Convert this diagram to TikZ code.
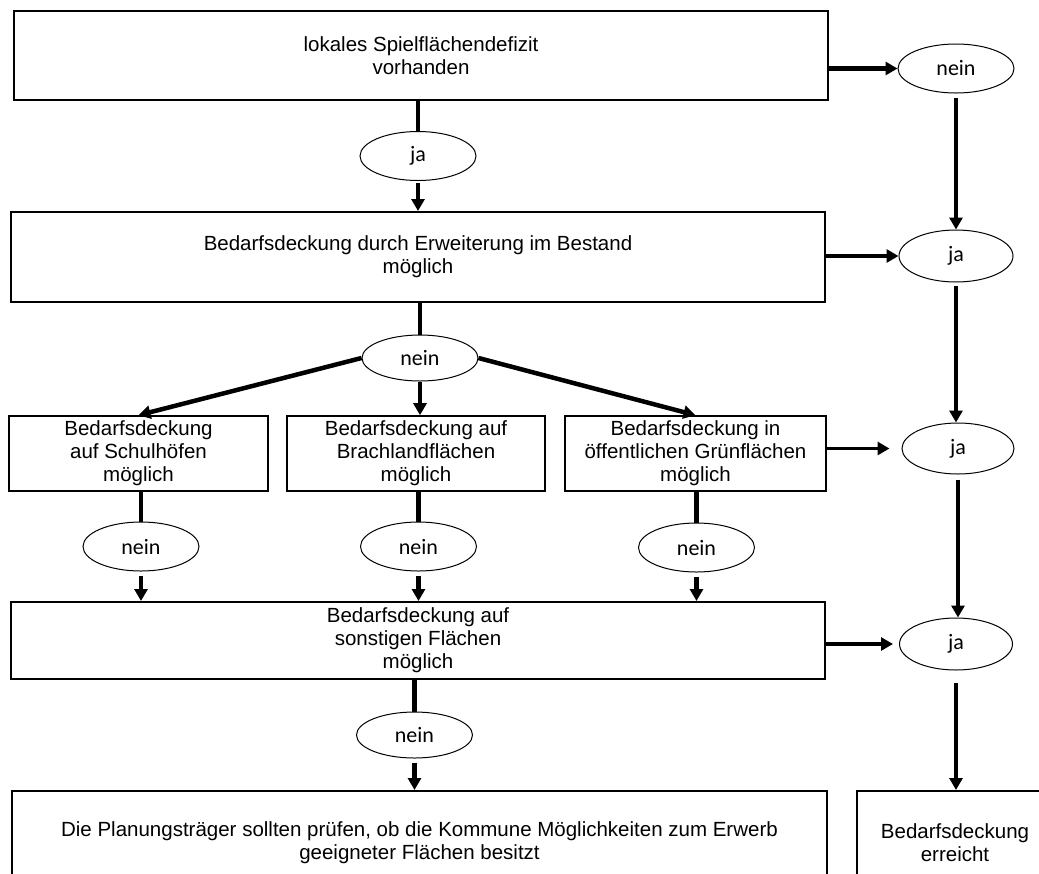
\documentclass[tikz,border=0pt]{standalone}
\usepackage{fontspec}
\setmainfont{Liberation Sans}
\newfontfamily\ansfont{Carlito}
\usetikzlibrary{shapes,arrows.meta,positioning}

\begin{document}
\begin{tikzpicture}[x=1pt, y=-1pt, every node/.style={font=\fontsize{20.5}{23}\selectfont}]
    \tikzstyle{box} = [rectangle, draw=black, line width=2pt, align=center, inner sep=0pt]
    \tikzstyle{answer} = [ellipse, draw=black, line width=1pt, minimum width=116pt,
        minimum height=49pt, inner sep=0pt, font=\ansfont\fontsize{22}{24}\selectfont]
    \tikzstyle{arr} = [-{Triangle[length=12pt,width=13pt]}, line width=4.5pt]
    \tikzstyle{link} = [line width=4.5pt]
    \useasboundingbox (0,0) rectangle (1039,873);
    \clip (0,0) rectangle (1039,873);

    % main column
    \node (deficit) [box, minimum width=814pt, minimum height=89pt] at (421,55.5)
        {lokales Spielflächendefizit\\ vorhanden};
    \node (jaA) [answer] at (418,156) {ja};
    \node (extend) [box, minimum width=814pt, minimum height=90pt] at (418,257)
        {Bedarfsdeckung durch Erweiterung im Bestand\\ möglich};
    \node (neinA) [answer, minimum height=46pt] at (420,358) {nein};
    \node (school) [box, line width=1.6pt, minimum width=259pt, minimum height=75pt] at (138.5,453.5)
        {Bedarfsdeckung\\ auf Schulhöfen\\ möglich};
    \node (waste) [box, line width=1.6pt, minimum width=258pt, minimum height=75pt] at (416,453.5)
        {Bedarfsdeckung auf\\ Brachlandflächen\\ möglich};
    \node (green) [box, line width=1.6pt, minimum width=261pt, minimum height=75pt] at (695.5,453.5)
        {Bedarfsdeckung in\\ öffentlichen Grünflächen\\ möglich};
    \node (neinS) [answer] at (141,546.5) {nein};
    \node (neinW) [answer] at (418.5,546.5) {nein};
    \node (neinG) [answer] at (696.5,547.5) {nein};
    \node (other) [box, minimum width=814pt, minimum height=77pt] at (418,640.5)
        {Bedarfsdeckung auf\\ sonstigen Flächen\\ möglich};
    \node (neinO) [answer, minimum height=46pt] at (414.5,735) {nein};
    \node (acquire) [box, minimum width=815pt, minimum height=104pt] at (419.5,843)
        {Die Planungsträger sollten prüfen, ob die Kommune Möglichkeiten zum Erwerb\\ geeigneter Flächen besitzt};

    % right column
    \node (neinR) [answer] at (956,68.5) {nein};
    \node (jaR1) [answer, minimum width=114pt, minimum height=52pt] at (956,256) {ja};
    \node (jaR2) [answer, minimum width=112pt, minimum height=51pt] at (958,448.5) {ja};
    \node (jaR3) [answer, minimum width=113pt, minimum height=52pt] at (956,644) {ja};
    \node (done) [box, minimum width=196pt, minimum height=104pt] at (955,843)
        {Bedarfsdeckung\\ erreicht};

    \draw [arr] (deficit.east |- neinR) -- (neinR);
    \draw [link] (deficit.south -| jaA) -- (jaA);
    \draw [arr, shorten <=2pt] (jaA) -- (jaA |- extend.north);
    \draw [arr] (extend.east |- jaR1) -- (jaR1);
    \draw [arr, shorten <=4pt] (neinR) -- (jaR1);
    \draw [link] (extend.south -| neinA) -- (neinA);
    \draw [arr] (neinA.west) -- (school.north);
    \draw [arr] (neinA) -- (neinA |- waste.north);
    \draw [arr] (neinA.east) -- (green.north);
    \draw [arr, line width=3.5pt, shorten >=12pt] (green.east |- jaR2) -- (jaR2);
    \draw [arr, shorten <=3pt] (jaR1) -- (jaR1 |- jaR2.north);
    \foreach \f/\n in {school/neinS, waste/neinW, green/neinG} {
        \draw [link] (\f.south -| \n) -- (\n);
        \draw [arr, shorten <=4pt] (\n) -- (\n |- other.north);
    }
    \draw [arr, shorten >=6pt] (other.east |- jaR3) -- (jaR3);
    \draw [arr, shorten <=5pt] (jaR2) -- (jaR2 |- jaR3.north);
    \draw [link] (other.south -| neinO) -- (neinO);
    \draw [arr, shorten <=4pt] (neinO) -- (neinO |- acquire.north);
    \draw [arr, shorten <=12pt] (jaR3) -- (jaR3 |- done.north);
\end{tikzpicture}
\end{document}
